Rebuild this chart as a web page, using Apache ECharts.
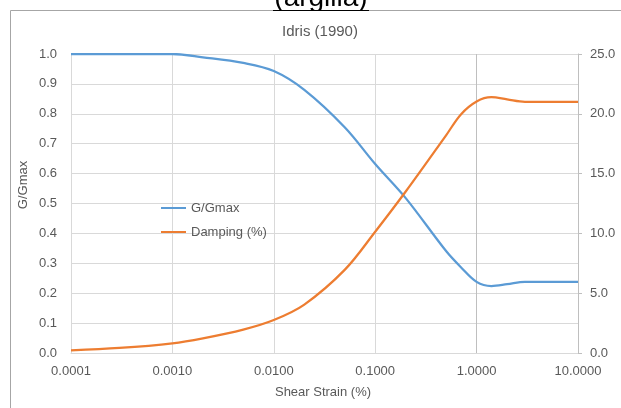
<!DOCTYPE html>
<html><head><meta charset="utf-8">
<script src="https://cdn.jsdelivr.net/npm/echarts@6/dist/echarts.min.js"></script>
<style>html,body{margin:0;padding:0;background:#fff}#c{width:621px;height:408px}</style>
</head><body><div id="c"></div>
<script>
const topText = '(argilla)';
const titleText = 'Idris (1990)';
const xName = 'Shear Strain (%)';
const yName = 'G/Gmax';
const seriesNames = ['G/Gmax', 'Damping (%)'];

const strain = [0.0001, 0.0003, 0.001, 0.002, 0.005, 0.01, 0.02, 0.05, 0.1, 0.2, 0.5, 0.7, 1.0, 1.4, 2.0, 3.0, 5.0, 10.0];
const gValues = [1.0, 1.0, 1.0, 0.989, 0.970, 0.943, 0.880, 0.755, 0.632, 0.518, 0.341, 0.287, 0.238, 0.224, 0.230, 0.238, 0.238, 0.238];
const dValues = [0.22, 0.42, 0.81, 1.23, 1.96, 2.76, 4.05, 6.95, 10.14, 13.5, 18.2, 19.95, 21.03, 21.39, 21.2, 21.0, 21.0, 21.0];

const FONT = '"Liberation Sans", Arial, sans-serif';
const chart = echarts.init(document.getElementById('c'), null, {renderer: 'canvas'});
const grey = '#595959';
chart.setOption({
  backgroundColor: '#ffffff',
  animation: false,
  textStyle: {fontFamily: FONT},
  grid: {left: 71, right: 43, top: 54, bottom: 55, containLabel: false},
  legend: {
    orient: 'vertical', left: 156, top: 196,
    itemWidth: 25, itemHeight: 2, itemGap: 10, icon: 'rect',
    textStyle: {fontSize: 13, color: grey, lineHeight: 14, fontFamily: FONT},
    data: seriesNames
  },
  xAxis: {
    type: 'log', logBase: 10, min: 0.0001, max: 10,
    axisLine: {show: true, lineStyle: {color: '#d9d9d9'}},
    axisTick: {show: false},
    minorTick: {show: false},
    axisLabel: {formatter: v => Number(v).toFixed(4), fontSize: 13, color: grey, margin: 12, fontFamily: FONT},
    splitLine: {show: true, lineStyle: {color: ['#d9d9d9', '#d9d9d9', '#d9d9d9', '#d9d9d9', '#bfbfbf', '#d9d9d9'], width: 1}}
  },
  yAxis: [{
    type: 'value', min: 0, max: 1, interval: 0.1,
    axisLine: {show: false}, axisTick: {show: false},
    axisLabel: {formatter: v => Number(v).toFixed(1), fontSize: 13, color: grey, margin: 14, fontFamily: FONT},
    splitLine: {show: true, lineStyle: {color: '#d9d9d9', width: 1}}
  }, {
    type: 'value', position: 'right', min: 0, max: 25, interval: 5,
    axisLine: {show: true, lineStyle: {color: '#bfbfbf'}},
    axisTick: {show: true, inside: false, length: 4, lineStyle: {color: '#bfbfbf'}},
    axisLabel: {formatter: v => Number(v).toFixed(1), fontSize: 13, color: grey, margin: 12, fontFamily: FONT},
    splitLine: {show: false}
  }],
  series: [{
    name: seriesNames[0], type: 'line', yAxisIndex: 0,
    data: strain.map((s, i) => [s, gValues[i]]),
    smooth: 0.35, symbol: 'none', showSymbol: false,
    lineStyle: {color: '#5b9bd5', width: 2.25}, itemStyle: {color: '#5b9bd5'}, z: 3
  }, {
    name: seriesNames[1], type: 'line', yAxisIndex: 1,
    data: strain.map((s, i) => [s, dValues[i]]),
    smooth: 0.35, symbol: 'none', showSymbol: false,
    lineStyle: {color: '#ed7d31', width: 2.25}, itemStyle: {color: '#ed7d31'}, z: 3
  }],
  graphic: [
    {type: 'text', z: -10, x: 321, y: -2,
     style: {text: topText, font: '28px ' + FONT, fill: '#000', align: 'center', verticalAlign: 'middle', textAlign: 'center', textVerticalAlign: 'middle'}},
    {type: 'rect', z: -5, shape: {x: 10.5, y: 10.5, width: 700, height: 500},
     style: {fill: '#ffffff', stroke: '#a6a6a6', lineWidth: 1}},
    {type: 'line', z: -4, shape: {x1: 273, y1: 10.5, x2: 369, y2: 10.5},
     style: {stroke: '#000', lineWidth: 1}},
    {type: 'text', z: 5, x: 320, y: 32,
     style: {text: titleText, font: '15px ' + FONT, fill: grey, align: 'center', verticalAlign: 'middle', textAlign: 'center', textVerticalAlign: 'middle'}},
    {type: 'text', z: 5, x: 23, y: 185, rotation: Math.PI / 2,
     style: {text: yName, font: '13px ' + FONT, fill: grey, align: 'center', verticalAlign: 'middle', textAlign: 'center', textVerticalAlign: 'middle'}},
    {type: 'text', z: 5, x: 323, y: 392,
     style: {text: xName, font: '13px ' + FONT, fill: grey, align: 'center', verticalAlign: 'middle', textAlign: 'center', textVerticalAlign: 'middle'}}
  ]
});
</script>
</body></html>
